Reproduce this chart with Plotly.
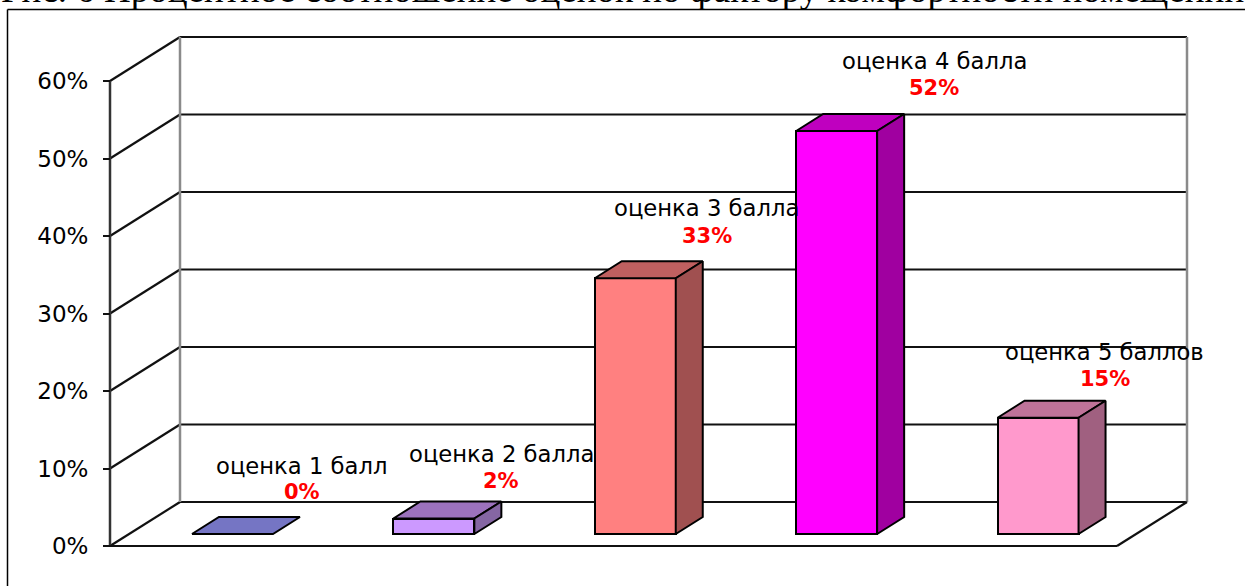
import plotly.graph_objects as go

# ---- data ----
categories = ["оценка 1 балл", "оценка 2 балла", "оценка 3 балла", "оценка 4 балла", "оценка 5 баллов"]
values = [0, 2, 33, 52, 15]
tick_values = [0, 10, 20, 30, 40, 50, 60]
tick_labels = ["0%", "10%", "20%", "30%", "40%", "50%", "60%"]
title_text = "Рис. 6 Процентное соотношение оценок по фактору комфортности помещений"

# ---- styles ----
front_colors = ["#6666CC", "#CC99FF", "#FF8080", "#FF00FF", "#FF99CC"]
top_colors = ["#7575C4", "#9C72BD", "#BF6060", "#BF00BF", "#BF7399"]
side_colors = ["#5A5AA0", "#8566A3", "#A05050", "#A000A0", "#A06080"]
W, H = 1245, 586
PX_X0, PX_CAT = 110.0, 201.4     # pixel of category origin, pixels per category
PX_Y0, PX_PCT = 546.0, 7.75      # pixel of 0%, pixels per percent
n = len(categories)
wall_dx, wall_dy = 70 / PX_CAT, 44 / PX_PCT
bar_dx, bar_dy = 27 / PX_CAT, 17 / PX_PCT
bar_base = 12 / PX_PCT
bar_pos = 0.608
bar_w = 81 / PX_CAT
label_dx = [0.345, 0.335, 0.355, 0.485, 0.33]
name_dy = [6.6, 6.1, 6.9, 6.9, 6.3]
value_dy = [3.2, 2.7, 3.3, 3.4, 2.8]
FONT = "DejaVu Sans"
DARK = "#111111"
GREY = "#8a8a8a"
EDGE = 2

xr = [-PX_X0 / PX_CAT, (W - PX_X0) / PX_CAT]
yr = [(PX_Y0 - H) / PX_PCT, PX_Y0 / PX_PCT]
centers = [i + bar_pos for i in range(n)]

fig = go.Figure()

# front faces
fig.add_trace(go.Bar(x=centers, y=values, base=bar_base, width=bar_w,
                     marker=dict(color=front_colors, line=dict(color="black", width=EDGE)),
                     hoverinfo="skip", showlegend=False))

# top and side faces, derived from the values
for c, v, tc, sc in zip(centers, values, top_colors, side_colors):
    l, r = c - bar_w / 2, c + bar_w / 2
    t = bar_base + v
    fig.add_trace(go.Scatter(x=[l, r, r + bar_dx, l + bar_dx, l], y=[t, t, t + bar_dy, t + bar_dy, t],
                             mode="lines", fill="toself", fillcolor=tc, line=dict(color="black", width=EDGE),
                             hoverinfo="skip", showlegend=False))
    if v > 0:
        fig.add_trace(go.Scatter(x=[r, r + bar_dx, r + bar_dx, r, r],
                                 y=[bar_base, bar_base + bar_dy, t + bar_dy, t, bar_base],
                                 mode="lines", fill="toself", fillcolor=sc, line=dict(color="black", width=EDGE),
                                 hoverinfo="skip", showlegend=False))

shapes = []
def seg(x0, y0, x1, y1, color=DARK, width=2.2):
    shapes.append(dict(type="line", xref="x", yref="y", x0=x0, y0=y0, x1=x1, y1=y1,
                       line=dict(color=color, width=width), layer="below"))

for v in tick_values:
    seg(0, v, wall_dx, v + wall_dy)
    seg(wall_dx, v + wall_dy, n + wall_dx, v + wall_dy)
seg(0, tick_values[0], 0, tick_values[-1], "#333333", 2.5)
seg(wall_dx, tick_values[0] + wall_dy, wall_dx, tick_values[-1] + wall_dy, GREY, 2.5)
seg(n + wall_dx, tick_values[0] + wall_dy, n + wall_dx, tick_values[-1] + wall_dy, GREY, 2.5)
seg(0, 0, n, 0)
seg(n, 0, n + wall_dx, wall_dy)

# outer frame
shapes.append(dict(type="line", xref="paper", yref="paper", x0=7.5 / W, x1=1, y0=1 - 9.5 / H, y1=1 - 9.5 / H,
                   line=dict(color="black", width=1.5), layer="below"))
shapes.append(dict(type="line", xref="paper", yref="paper", x0=7.5 / W, x1=7.5 / W, y0=0, y1=1 - 9.5 / H,
                   line=dict(color="black", width=1.5), layer="below"))

annotations = [dict(text=title_text, xref="paper", yref="paper", x=0.5, y=1 - 5 / H, xanchor="center",
                    yanchor="bottom", yshift=-7, showarrow=False,
                    font=dict(family="Liberation Serif", size=37, color="black"))]
for c, name, v, ldx, ndy, vdy in zip(centers, categories, values, label_dx, name_dy, value_dy):
    annotations.append(dict(text=name, x=c + ldx, y=v + bar_base + bar_dy + ndy, xref="x", yref="y",
                            showarrow=False, font=dict(family=FONT, size=22.7, color="black")))
    annotations.append(dict(text=f"<b>{v}%</b>", x=c + ldx, y=v + bar_base + bar_dy + vdy, xref="x", yref="y",
                            showarrow=False, font=dict(family=FONT, size=21, color="#FF0000")))

fig.update_layout(
    width=W, height=H, margin=dict(l=0, r=0, t=0, b=0), autosize=False,
    paper_bgcolor="white", plot_bgcolor="white", showlegend=False, bargap=0,
    xaxis=dict(range=xr, visible=False, fixedrange=True),
    yaxis=dict(range=yr, anchor="free", position=PX_X0 / W, side="left", fixedrange=True,
               tickmode="array", tickvals=tick_values, ticktext=tick_labels,
               ticks="outside", ticklen=7, tickwidth=1.5, tickcolor=DARK, ticklabelstandoff=10,
               tickfont=dict(family=FONT, size=23, color="black"),
               showgrid=False, zeroline=False, showline=False),
    shapes=shapes, annotations=annotations,
)

fig.write_html("out.html", config=dict(displayModeBar=False),
               post_script="document.body.style.margin='0';document.body.style.overflow='hidden';")
